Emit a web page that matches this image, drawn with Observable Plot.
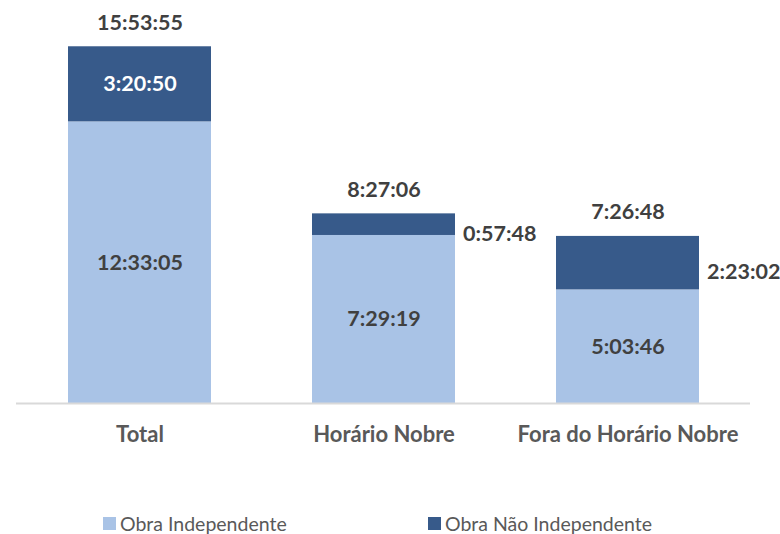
<!DOCTYPE html>
<html>
<head>
<meta charset="utf-8">
<script src="https://cdn.jsdelivr.net/npm/d3@7"></script>
<script src="https://cdn.jsdelivr.net/npm/@observablehq/plot@0.6"></script>
<style>
  body { margin: 0; background: #fff; }
  #wrap { position: relative; width: 780px; height: 534px; font-family: Lato, "Open Sans", sans-serif; }
  #legend { position: absolute; left: 0; top: 510px; width: 780px; height: 24px; font-size: 19.5px; color: #595959; }
  .item { position: absolute; top: 2px; display: flex; align-items: center; white-space: nowrap; }
  .sw { width: 13px; height: 13px; margin-right: 4px; display: inline-block; }
</style>
</head>
<body>
<div id="wrap">
  <div id="chart"></div>
  <div id="legend"></div>
</div>
<script>
const categories = ["Total", "Horário Nobre", "Fora do Horário Nobre"];
const seriesNames = ["Obra Independente", "Obra Não Independente"];
const obraIndependente = ["12:33:05", "7:29:19", "5:03:46"];
const obraNaoIndependente = ["3:20:50", "0:57:48", "2:23:02"];
const totals = ["15:53:55", "8:27:06", "7:26:48"];
const colors = ["#A9C3E6", "#375A8A"];

const toHours = s => { const [h, m, sec] = s.split(":").map(Number); return h + m / 60 + sec / 3600; };

const rows = [];
categories.forEach((c, i) => {
  rows.push({category: c, series: seriesNames[0], hours: toHours(obraIndependente[i]), label: obraIndependente[i]});
  rows.push({category: c, series: seriesNames[1], hours: toHours(obraNaoIndependente[i]), label: obraNaoIndependente[i]});
});

const labels = [];
categories.forEach((c, i) => {
  const a = toHours(obraIndependente[i]);
  const b = toHours(obraNaoIndependente[i]);
  labels.push({category: c, y: a / 2, text: obraIndependente[i], kind: "innerLight"});
  if (b > 3) labels.push({category: c, y: a + b / 2, text: obraNaoIndependente[i], kind: "innerDark"});
  else labels.push({category: c, y: a + b / 2, text: obraNaoIndependente[i], kind: "outside"});
  labels.push({category: c, y: toHours(totals[i]), text: totals[i], kind: "total"});
});

const font = "Lato, 'Open Sans', sans-serif";
const fs = 21.5;
const chart = Plot.plot({
  width: 780,
  height: 500,
  marginLeft: 16,
  marginRight: 30,
  marginTop: 44,
  marginBottom: 97,
  style: {fontFamily: font, background: "#fff"},
  x: {domain: categories, paddingInner: 0.415, paddingOuter: 0.2075, axis: null},
  y: {domain: [0, 16], axis: null},
  color: {domain: seriesNames, range: colors},
  marks: [
    Plot.barY(rows, {x: "category", y: "hours", fill: "series"}),
    Plot.ruleY([0], {stroke: "#D9D9D9", strokeWidth: 2}),
    Plot.text(categories, {x: d => d, y: 0, dy: 31, text: d => d, fontSize: 22, fontWeight: "bold", fill: "#595959"}),
    Plot.text(labels.filter(d => d.kind === "innerLight"), {x: "category", y: "y", text: "text", fontSize: fs, fontWeight: "bold", fill: "#404040"}),
    Plot.text(labels.filter(d => d.kind === "innerDark"), {x: "category", y: "y", text: "text", fontSize: fs, fontWeight: "bold", fill: "#ffffff"}),
    Plot.text(labels.filter(d => d.kind === "outside"), {x: "category", y: "y", dx: 79, dy: 9, textAnchor: "start", text: "text", fontSize: fs, fontWeight: "bold", fill: "#404040"}),
    Plot.text(labels.filter(d => d.kind === "total"), {x: "category", y: "y", dy: -24, text: "text", fontSize: fs, fontWeight: "bold", fill: "#404040"})
  ]
});
document.getElementById("chart").appendChild(chart);

const legend = document.getElementById("legend");
const lefts = [103, 428];
seriesNames.forEach((name, i) => {
  const item = document.createElement("div");
  item.className = "item";
  item.style.left = lefts[i] + "px";
  item.innerHTML = `<span class="sw" style="background:${colors[i]}"></span><span>${name}</span>`;
  legend.appendChild(item);
});
</script>
</body>
</html>
